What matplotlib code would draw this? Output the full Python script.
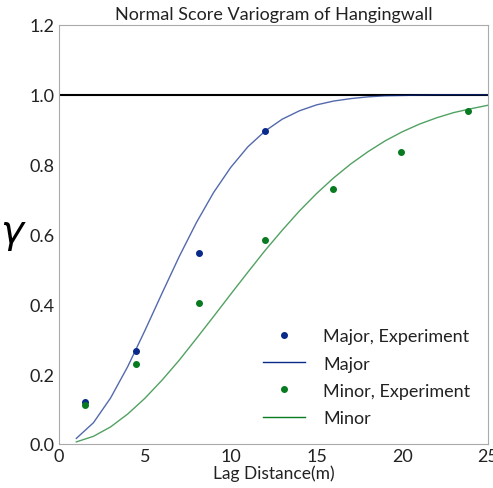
import matplotlib
matplotlib.use("Agg")
import matplotlib.pyplot as plt

plt.rcParams['font.family'] = ['Lato', 'DejaVu Sans']

# experimental variogram points
lag_exp_major = [1.5, 4.45, 8.15, 12.0]
gam_exp_major = [0.121, 0.267, 0.548, 0.896]
lag_exp_minor = [1.5, 4.45, 8.15, 12.0, 15.95, 19.95, 23.85]
gam_exp_minor = [0.113, 0.228, 0.405, 0.584, 0.731, 0.835, 0.953]

# model curves
lag_model = list(range(1, 26))
gam_major = [0.016, 0.061, 0.132, 0.222, 0.325, 0.432, 0.537, 0.634, 0.720, 0.792,
             0.851, 0.896, 0.930, 0.954, 0.971, 0.982, 0.989, 0.994, 0.997, 0.998,
             0.999, 1.0, 1.0, 1.0, 1.0]
gam_minor = [0.006, 0.022, 0.049, 0.086, 0.131, 0.183, 0.240, 0.302, 0.365, 0.429,
             0.492, 0.554, 0.612, 0.667, 0.717, 0.762, 0.802, 0.837, 0.868, 0.894,
             0.916, 0.934, 0.949, 0.960, 0.970]
sill = 1.0

fig = plt.figure(figsize=(4.93, 4.89), dpi=100)
ax = fig.add_axes([0.12, 0.09, 0.87, 0.857])

ax.axhline(sill, color='black', lw=1.5, zorder=1)
ax.plot(lag_exp_major, gam_exp_major, 'o', color='#0a2a8a', ms=4, label='Major, Experiment')
ax.plot(lag_model, gam_major, '-', color='#0a2a8a', lw=1, alpha=0.7, label='Major')
ax.plot(lag_exp_minor, gam_exp_minor, 'o', color='#087a1f', ms=4, label='Minor, Experiment')
ax.plot(lag_model, gam_minor, '-', color='#087a1f', lw=1, alpha=0.7, label='Minor')

ax.set_xlim(0, 25)
ax.set_ylim(0, 1.2)
ax.set_xticks([0, 5, 10, 15, 20, 25])
ax.set_yticks([0.0, 0.2, 0.4, 0.6, 0.8, 1.0, 1.2])
ax.set_yticklabels(['0.0', '0.2', '0.4', '0.6', '0.8', '1.0', '1.2'])
ax.tick_params(length=0, labelsize=13, pad=3, colors='#222222')
for s in ax.spines.values():
    s.set_color('#aaaaaa')

ax.set_title('Normal Score Variogram of Hangingwall', fontsize=13, pad=4, color='#222222')
ax.set_xlabel('Lag Distance(m)', fontsize=12.5, labelpad=0, color='#222222')
ax.set_ylabel(r'$\gamma$', fontsize=28, rotation=0, labelpad=12, va='center')

leg = ax.legend(loc='lower right', frameon=False, fontsize=13, handlelength=2.3,
                handletextpad=1.0, borderaxespad=0.6, labelspacing=0.62)
for t in leg.get_texts():
    t.set_color('#222222')
for h in leg.legend_handles:
    h.set_alpha(1)

fig.savefig('out.png', dpi=100)
